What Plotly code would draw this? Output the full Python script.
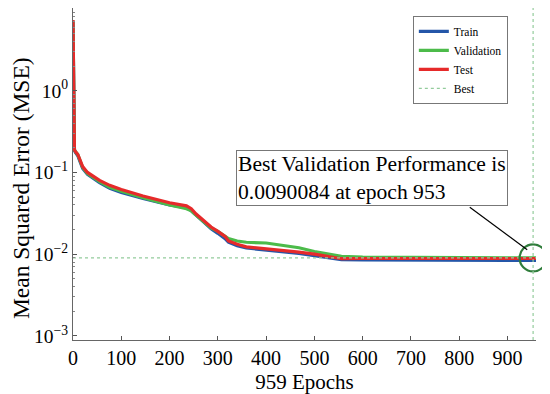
import plotly.graph_objects as go

epochs = [0, 1, 2, 3, 5, 8, 10, 14, 20, 30, 41, 55, 76, 100, 145, 200, 235, 245, 255, 264,
          275, 286, 300, 315, 322, 340, 359, 400, 432, 468, 500, 541, 556, 600, 700, 800, 900, 953, 959]
train = [7.0, 1.4, 0.38, 0.185, 0.176, 0.168, 0.160, 0.138, 0.112, 0.095, 0.085, 0.075, 0.064, 0.057,
         0.048, 0.040, 0.037, 0.034, 0.030, 0.027, 0.0235, 0.0205, 0.018, 0.0155, 0.014, 0.0127, 0.0119,
         0.0113, 0.0108, 0.0102, 0.0096, 0.0089, 0.0086, 0.0085, 0.0084, 0.0084, 0.00838, 0.00837, 0.00837]
validation = [7.2, 1.5, 0.40, 0.19, 0.18, 0.172, 0.165, 0.143, 0.115, 0.097, 0.087, 0.077, 0.066, 0.059,
              0.049, 0.040, 0.036, 0.034, 0.030, 0.027, 0.024, 0.021, 0.019, 0.0165, 0.0155, 0.0145, 0.0140,
              0.0137, 0.0130, 0.0120, 0.0108, 0.0098, 0.0094, 0.0092, 0.0091, 0.0090, 0.0090, 0.0090084, 0.0090]
test = [7.35, 1.5, 0.40, 0.19, 0.18, 0.172, 0.166, 0.145, 0.118, 0.100, 0.090, 0.080, 0.0695, 0.062,
        0.0514, 0.0426, 0.039, 0.036, 0.031, 0.028, 0.025, 0.0215, 0.019, 0.0165, 0.0145, 0.0132, 0.0123,
        0.0117, 0.0112, 0.0106, 0.0100, 0.0092, 0.0088, 0.00885, 0.0089, 0.00885, 0.00885, 0.00885, 0.00885]

best_epoch = 953
best_value = 0.0090084
total_epochs = 959

ytick_vals = [1e-3, 1e-2, 1e-1, 1, 10]
ytick_text = ["10<sup>\u22123</sup>", "10<sup>\u22122</sup>", "10<sup>\u22121</sup>", "10<sup>0</sup>", "10"]
xtick_vals = [0, 100, 200, 300, 400, 500, 600, 700, 800, 900]
minor_y = [m * 10 ** e for e in range(-3, 1) for m in range(2, 10)]

FONT = "Liberation Serif"
C_TRAIN = "#2456a8"
C_VAL = "#4cbb4a"
C_TEST = "#e62a2a"
C_BEST = "#93cc9c"
C_CIRCLE = "#2f7d3b"

fig = go.Figure()
fig.add_trace(go.Scatter(x=epochs, y=train, mode="lines", name="Train",
                         line=dict(color=C_TRAIN, width=3.2)))
fig.add_trace(go.Scatter(x=epochs, y=validation, mode="lines", name="Validation",
                         line=dict(color=C_VAL, width=3.2)))
fig.add_trace(go.Scatter(x=epochs, y=test, mode="lines", name="Test",
                         line=dict(color=C_TEST, width=3.2)))
fig.add_trace(go.Scatter(x=[0, total_epochs], y=[best_value, best_value], mode="lines", name="Best",
                         line=dict(color=C_BEST, width=1.2, dash="dot")))
fig.add_trace(go.Scatter(x=[best_epoch], y=[best_value], mode="markers", showlegend=False,
                         cliponaxis=False,
                         marker=dict(symbol="circle-open", size=27, color=C_CIRCLE,
                                     line=dict(width=2.2, color=C_CIRCLE))))

fig.add_shape(type="line", xref="x", yref="paper", x0=best_epoch, x1=best_epoch, y0=0, y1=1,
              line=dict(color=C_BEST, width=1.2, dash="dot"))
fig.add_shape(type="line", xref="paper", yref="paper", x0=0.857, y0=0.400, x1=0.981, y1=0.272,
              line=dict(color="black", width=1.2))

fig.add_annotation(xref="paper", yref="paper", x=0.352, y=0.573, xanchor="left", yanchor="top",
                   text=f"Best Validation Performance is<br>{best_value} at epoch {best_epoch}",
                   showarrow=False, align="left", font=dict(family=FONT, size=21.6, color="black"),
                   bgcolor="white", bordercolor="#777777", borderwidth=1, borderpad=1)

# y-axis title (rotated text, sitting slightly low like the reference)
fig.add_annotation(xref="paper", yref="paper", x=-0.112, y=0.458, xanchor="center", yanchor="middle",
                   text="Mean Squared Error (MSE)", textangle=-90, showarrow=False,
                   font=dict(family=FONT, size=23.5, color="black"))

fig.update_layout(
    width=542, height=386,
    margin=dict(l=65, r=14, t=0, b=54, autoexpand=False),
    paper_bgcolor="white", plot_bgcolor="white",
    font=dict(family=FONT, size=20, color="black"),
    showlegend=True,
    legend=dict(x=0.734, y=0.976, xanchor="left", yanchor="top",
                bgcolor="white", bordercolor="#777777", borderwidth=1,
                font=dict(family=FONT, size=11.5, color="black"),
                tracegroupgap=0, itemwidth=30),
    xaxis=dict(range=[0, total_epochs], tickvals=xtick_vals, ticks="inside", ticklen=4,
               tickcolor="#555555", showline=True, linecolor="#666666", linewidth=1,
               showgrid=False, zeroline=False, mirror=False, automargin=False,
               tickfont=dict(family=FONT, size=20),
               title=dict(text=f"{total_epochs} Epochs", font=dict(family=FONT, size=21))),
    yaxis=dict(type="log", range=[-3.05, 1.012], tickvals=ytick_vals, ticktext=ytick_text,
               ticks="inside", ticklen=4, tickcolor="#555555", showline=True,
               linecolor="#666666", linewidth=1, showgrid=False, zeroline=False,
               automargin=False, tickfont=dict(family=FONT, size=19.5),
               minor=dict(tickvals=minor_y, ticks="inside", ticklen=2, tickcolor="#888888",
                          showgrid=False)),
)

fig.write_html("out.html")
